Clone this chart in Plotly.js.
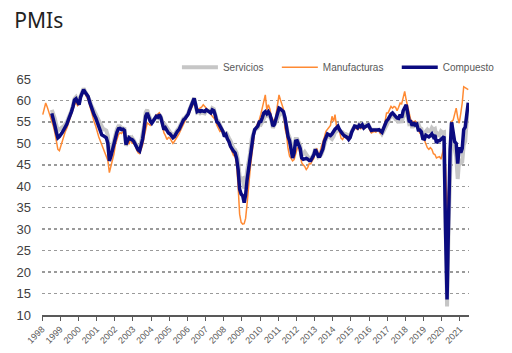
<!DOCTYPE html>
<html>
<head>
<meta charset="utf-8">
<script src="https://cdn.plot.ly/plotly-3.0.1.min.js"></script>
<style>html,body{margin:0;padding:0;background:#fff;}#chart{width:512px;height:353px;}</style>
</head>
<body>
<div id="chart"></div>
<script>
// Monthly series, Jan 1998 - Jun 2021 (one row per year)
const firstYear = 1998, lastYear = 2021, lastMonth = 6;

const servicios = [
  null,null,null,null,null,null,57.8,57.0,55.8,54.2,53.0,53.2,
  53.6,53.8,54.0,54.4,55.0,55.9,56.6,57.6,58.8,60.4,60.8,60.0,
  59.4,61.0,62.3,62.8,62.1,61.4,61.2,60.0,58.9,58.0,57.3,56.8,
  56.0,55.4,54.8,53.8,53.3,53.2,53.0,51.8,46.5,47.8,49.2,51.0,
  52.5,53.3,54.0,54.0,53.6,53.5,53.4,49.4,50.7,51.8,50.9,51.3,
  50.8,50.0,49.2,48.8,48.4,50.0,51.6,54.2,57.2,57.8,56.6,55.6,
  54.8,55.3,55.8,56.3,56.0,56.6,56.2,55.0,53.7,54.2,53.6,53.0,
  52.6,52.3,51.8,52.0,52.9,53.2,53.6,54.4,54.9,55.8,56.0,56.5,
  57.0,58.0,58.8,59.6,60.6,58.8,57.2,57.4,57.0,57.2,57.0,57.0,
  57.6,57.6,57.6,57.3,58.2,58.0,56.8,55.4,55.2,54.3,53.6,52.9,
  51.8,52.6,51.6,51.2,50.6,49.5,48.8,48.5,47.8,45.8,42.3,41.6,
  41.8,39.5,40.6,43.6,45.5,47.8,51.0,52.2,53.2,53.4,53.6,54.6,
  54.4,55.0,55.6,56.4,56.4,56.6,56.2,55.4,53.6,54.4,55.2,55.8,
  57.0,57.2,57.0,56.6,55.6,53.6,52.2,51.4,49.8,47.0,48.5,51.0,
  51.0,50.0,49.6,47.4,47.5,48.0,47.4,47.0,46.4,46.6,46.8,47.6,
  48.8,47.9,46.8,47.0,47.4,48.4,49.8,50.8,52.2,51.6,51.2,51.0,
  51.6,52.6,52.8,53.2,53.0,52.6,52.6,52.2,52.2,52.0,51.4,51.8,
  52.8,53.6,54.0,54.0,53.8,54.4,54.0,54.4,53.8,54.2,54.4,54.4,
  53.6,53.2,53.2,53.2,53.4,53.2,53.2,52.8,52.2,52.8,53.8,54.2,
  55.0,56.0,56.2,56.4,56.4,55.6,55.4,54.8,55.8,54.8,56.2,56.6,
  57.6,56.2,54.6,54.8,53.6,55.0,54.2,54.4,54.6,53.6,53.4,51.4,
  51.2,52.8,53.2,52.8,52.8,53.6,53.2,53.4,51.6,52.2,51.9,52.8,
  52.5,52.6,26.4,12.0,30.5,48.3,54.7,50.5,48.0,46.9,41.7,46.4,
  45.4,45.7,49.6,50.5,55.2,58.3
];

const manufacturas = [
  56.7,58.0,59.4,58.5,57.4,56.5,55.5,54.0,52.5,50.5,48.6,48.3,
  49.5,50.8,52.0,52.8,53.6,54.8,55.6,56.8,57.8,59.0,59.6,58.8,
  59.2,60.5,61.6,62.2,61.5,61.0,60.2,58.8,57.4,56.0,55.0,54.0,
  52.5,51.5,50.6,49.7,48.6,47.6,46.8,46.0,43.2,44.5,45.8,47.5,
  49.8,50.9,52.0,52.5,52.3,52.8,51.8,50.8,50.4,49.8,51.4,50.0,
  50.0,49.5,48.5,47.8,47.6,48.5,49.6,51.5,53.5,54.8,54.5,54.2,
  54.6,55.2,56.0,56.6,56.8,57.1,55.8,53.8,52.5,51.8,50.9,51.4,
  51.2,50.6,50.0,50.5,51.0,51.8,52.2,53.0,53.8,54.6,55.2,56.0,
  56.5,57.2,58.0,58.8,59.8,59.0,57.8,58.0,58.2,58.5,59.0,58.6,
  58.4,57.8,57.2,56.8,56.4,56.0,55.5,54.2,53.4,52.8,53.0,52.2,
  52.0,51.5,50.8,49.8,48.8,47.8,47.2,47.0,45.0,40.0,33.5,31.6,
  31.2,31.3,32.5,36.0,40.5,44.0,47.0,50.5,52.8,54.0,54.6,55.5,
  56.8,58.5,59.5,61.3,57.8,59.0,58.0,56.2,55.6,54.6,56.6,58.5,
  61.3,60.1,59.2,58.0,53.5,52.0,48.8,47.0,46.5,45.9,46.2,47.6,
  48.8,49.2,47.5,45.5,45.0,44.6,43.9,44.4,45.3,45.2,46.0,46.5,
  48.2,48.8,47.2,47.8,49.2,50.2,51.5,52.8,53.2,53.6,54.2,56.3,
  55.1,56.7,54.0,53.8,52.8,51.2,50.9,51.6,51.2,51.0,51.6,51.4,
  52.6,53.2,54.0,53.4,53.2,53.6,53.4,53.8,53.4,53.6,54.0,54.2,
  53.0,52.4,52.6,52.8,52.6,53.2,53.0,52.2,53.2,53.8,55.0,57.1,
  57.1,58.0,58.6,58.2,58.6,58.4,57.6,58.4,59.4,59.2,60.4,62.1,
  60.1,58.4,56.6,55.5,55.2,55.0,55.2,54.6,53.2,52.4,52.6,51.6,
  50.9,49.8,49.0,48.6,49.0,48.6,47.6,47.4,46.6,46.8,46.9,46.3,
  47.9,49.2,44.5,33.4,39.4,47.4,55.1,55.4,56.6,58.2,56.0,54.7,
  57.0,59.4,63.2,63.0,62.6,62.5
];

const compuesto = [
  null,null,null,null,null,null,57.0,55.8,54.2,52.6,51.3,51.6,
  52.0,52.6,53.2,53.8,54.5,55.5,56.3,57.4,58.6,60.1,60.4,59.6,
  59.0,60.8,62.0,62.5,61.9,61.2,60.9,59.6,58.4,57.4,56.6,55.9,
  55.0,54.2,53.2,52.0,51.8,51.5,51.3,50.0,45.9,47.0,48.5,50.1,
  51.8,52.6,53.4,53.5,53.2,53.3,53.0,49.7,50.6,51.3,51.0,50.9,
  50.5,49.8,49.0,48.5,48.2,49.5,51.0,53.5,56.3,57.1,56.0,55.2,
  54.7,55.2,55.8,56.3,56.1,56.7,56.0,54.6,53.2,53.6,52.8,52.4,
  52.2,51.8,51.3,51.6,52.4,52.8,53.2,54.0,54.6,55.5,55.8,56.3,
  56.8,57.8,58.6,59.4,60.5,59.0,57.4,57.6,57.4,57.6,57.5,57.4,
  57.8,57.6,57.4,57.1,57.8,57.6,56.5,55.0,54.7,54.0,53.5,52.8,
  51.6,52.0,51.0,50.4,49.3,48.5,48.2,47.8,46.5,43.9,39.3,38.2,
  37.8,36.2,38.0,41.6,44.0,46.8,50.1,51.8,53.2,53.6,54.0,55.0,
  55.1,56.0,57.1,57.4,56.9,57.4,56.8,55.6,54.0,54.4,55.8,56.6,
  58.2,58.0,57.8,57.4,56.0,53.0,51.6,50.6,49.0,46.6,47.8,50.5,
  50.6,49.5,48.8,46.6,46.3,46.4,46.5,46.3,46.0,46.0,46.5,47.3,
  48.6,47.9,47.0,47.0,47.7,48.7,50.5,51.5,52.2,52.0,51.8,52.2,
  52.9,53.3,53.6,54.0,53.2,52.6,52.2,51.8,51.6,51.4,50.9,51.4,
  52.6,53.3,54.0,53.9,53.6,54.2,53.9,54.3,53.6,53.9,54.2,54.3,
  53.6,53.0,53.1,53.0,53.1,53.1,53.2,52.9,52.6,53.5,54.4,55.2,
  55.6,56.3,56.8,57.1,56.8,56.3,55.9,55.8,56.7,56.0,57.6,58.4,
  59.0,57.1,55.2,55.1,54.1,54.9,54.3,54.5,53.1,53.1,52.7,51.1,
  51.0,51.9,51.6,51.5,51.8,52.2,51.5,51.9,50.1,50.6,50.6,50.9,
  51.3,51.6,29.7,13.6,32.3,48.5,54.9,51.9,50.4,50.0,45.3,49.1,
  47.8,48.8,53.2,53.8,57.1,59.5
];

const seriesNames = ['Servicios', 'Manufacturas', 'Compuesto'];
const yTicks = [10, 15, 20, 25, 30, 35, 40, 45, 50, 55, 60, 65];

// month categories (YYYY-MM)
const months = [];
for (let y = firstYear; y <= lastYear; y++) {
  for (let m = 1; m <= 12; m++) {
    if (y === lastYear && m > lastMonth) break;
    months.push(y + '-' + String(m).padStart(2, '0'));
  }
}

const pad = '\u00a0\u00a0\u00a0';
const common = {x: months, type: 'scatter', mode: 'lines', xperiod: 'M1', xperiodalignment: 'middle', hoverinfo: 'skip', connectgaps: false};

const traces = [
  Object.assign({}, common, {y: servicios, name: seriesNames[0] + pad, line: {color: '#c6c6c6', width: 4}}),
  Object.assign({}, common, {y: manufacturas, name: seriesNames[1] + pad, line: {color: '#ff8a33', width: 1.5}}),
  Object.assign({}, common, {y: compuesto, name: seriesNames[2], line: {color: '#0b0b80', width: 3.5}})
];

const layout = {
  width: 512, height: 353,
  margin: {l: 42, r: 12, t: 79, b: 38},
  paper_bgcolor: '#ffffff', plot_bgcolor: '#ffffff',
  font: {family: '"Liberation Sans", Arial, sans-serif', color: '#404040'},
  title: {
    text: 'PMIs',
    font: {family: '"Noto Sans", "Open Sans", sans-serif', size: 21, color: '#222222'},
    xref: 'container', x: 0.028, xanchor: 'left',
    yref: 'container', y: 0.963, yanchor: 'top'
  },
  showlegend: true,
  legend: {
    orientation: 'h', x: 0.316, xanchor: 'left', y: 1.05, yanchor: 'middle',
    font: {size: 10, color: '#595959'}, bgcolor: 'rgba(0,0,0,0)',
    itemwidth: 36, tracegroupgap: 0
  },
  xaxis: {
    type: 'date',
    range: ['1998-01-01', '2021-07-01'],
    tick0: '1998-01-01', dtick: 'M12', tickformat: '%Y',
    tickangle: -45,
    tickfont: {size: 9, color: '#595959'},
    ticks: 'outside', ticklen: 4, tickwidth: 1, tickcolor: '#595959',
    showline: true, linecolor: '#595959', linewidth: 1.5,
    showgrid: false, zeroline: false, fixedrange: true
  },
  yaxis: {
    range: [10, 65],
    tickvals: yTicks,
    tickfont: {size: 13, color: '#404040'},
    ticks: '', ticklabelstandoff: 10,
    showgrid: true, gridcolor: '#9a9a9a', gridwidth: 1.5, griddash: 'dot',
    showline: false, zeroline: false, fixedrange: true
  }
};

Plotly.newPlot('chart', traces, layout, {staticPlot: true, displayModeBar: false});
</script>
</body>
</html>
